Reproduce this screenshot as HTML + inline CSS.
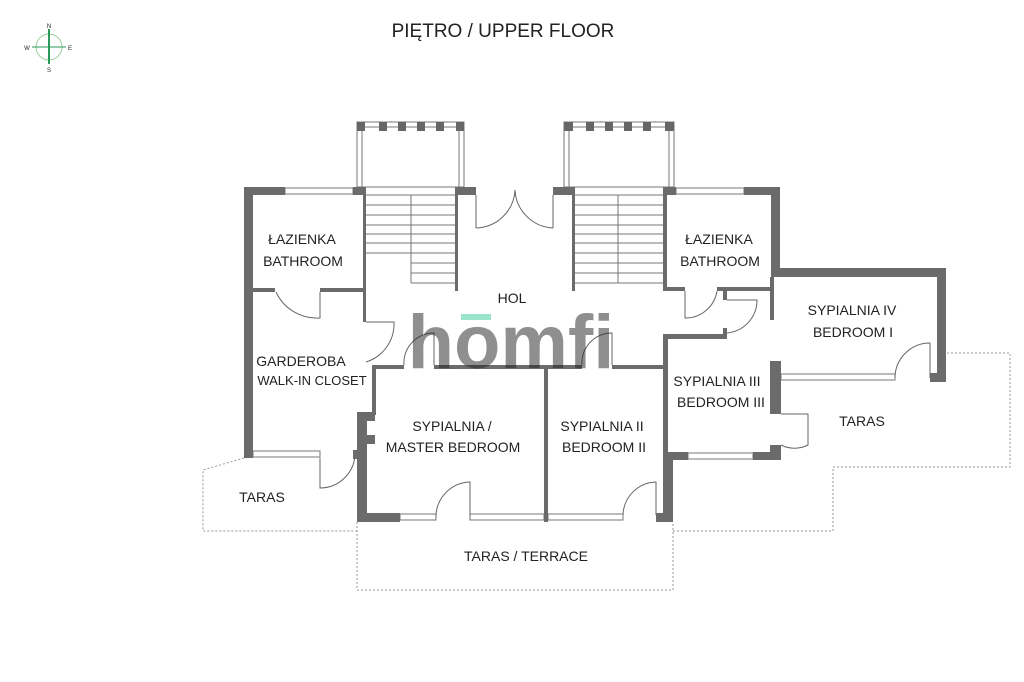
<!DOCTYPE html>
<html><head><meta charset="utf-8"><style>
html,body{margin:0;padding:0;background:#fff;width:1024px;height:682px;overflow:hidden}
svg{display:block}
text{font-family:"Liberation Sans",sans-serif;fill:#222}
</style></head><body>
<svg width="1024" height="682" viewBox="0 0 1024 682" xmlns="http://www.w3.org/2000/svg">
<rect width="1024" height="682" fill="#fff"/>
<text x="503" y="37" font-size="19" text-anchor="middle" fill="#333">PIĘTRO / UPPER FLOOR</text>
<circle cx="49" cy="47" r="13" fill="none" stroke="#9c9" stroke-width="1"/>
<line x1="49" y1="29" x2="49" y2="64" stroke="#2a9a5a" stroke-width="2"/>
<line x1="32" y1="47" x2="66" y2="47" stroke="#2a9a5a" stroke-width="1"/>
<text x="49" y="28" font-size="6" text-anchor="middle">N</text>
<text x="49" y="72" font-size="6" text-anchor="middle">S</text>
<text x="27" y="50" font-size="6" text-anchor="middle">W</text>
<text x="70" y="50" font-size="6" text-anchor="middle">E</text>

<g fill="none" stroke="#999" stroke-width="1" stroke-dasharray="2,2">
<polyline points="244,458 203,470 203,531 357,531"/>
<polyline points="357,522 357,590 673,590 673,522"/>
<polyline points="673,531 833,531 833,467 1010,467 1010,353 946,353"/>
</g>

<g fill="none" stroke="#777" stroke-width="1">
<rect x="357" y="122" width="107" height="65"/>
<line x1="362" y1="131" x2="362" y2="187"/><line x1="459" y1="131" x2="459" y2="187"/>
<line x1="357" y1="127" x2="464" y2="127"/>
<rect x="564" y="122" width="110" height="65"/>
<line x1="569" y1="131" x2="569" y2="187"/><line x1="669" y1="131" x2="669" y2="187"/>
<line x1="564" y1="127" x2="674" y2="127"/>
</g>
<g fill="#666">
<rect x="357" y="122" width="8" height="9"/><rect x="456" y="122" width="8" height="9"/>
<rect x="379" y="122" width="8" height="9"/><rect x="398" y="122" width="8" height="9"/><rect x="417" y="122" width="8" height="9"/><rect x="436" y="122" width="8" height="9"/>
<rect x="564" y="122" width="9" height="9"/><rect x="665" y="122" width="9" height="9"/>
<rect x="586" y="122" width="8" height="9"/><rect x="605" y="122" width="8" height="9"/><rect x="624" y="122" width="8" height="9"/><rect x="643" y="122" width="8" height="9"/>
</g>

<g stroke="#777" stroke-width="1">
<line x1="366" y1="195" x2="456" y2="195"/>
<line x1="411" y1="195" x2="411" y2="283"/>
<line x1="366" y1="205" x2="456" y2="205"/><line x1="366" y1="215" x2="456" y2="215"/><line x1="366" y1="225" x2="456" y2="225"/><line x1="366" y1="234" x2="456" y2="234"/><line x1="366" y1="243" x2="456" y2="243"/><line x1="366" y1="253" x2="456" y2="253"/>
<line x1="411" y1="263" x2="456" y2="263"/><line x1="411" y1="273" x2="456" y2="273"/><line x1="411" y1="283" x2="456" y2="283"/>
<line x1="575" y1="195" x2="663" y2="195"/>
<line x1="618" y1="195" x2="618" y2="283"/>
<line x1="575" y1="205" x2="663" y2="205"/><line x1="575" y1="215" x2="663" y2="215"/><line x1="575" y1="225" x2="663" y2="225"/><line x1="575" y1="234" x2="663" y2="234"/><line x1="575" y1="243" x2="663" y2="243"/><line x1="575" y1="253" x2="663" y2="253"/><line x1="575" y1="263" x2="663" y2="263"/><line x1="575" y1="273" x2="663" y2="273"/><line x1="575" y1="283" x2="663" y2="283"/>
</g>

<g stroke="#777" stroke-width="1" fill="none">
<rect x="285" y="188" width="68" height="6"/>
<rect x="676" y="188" width="68" height="6"/>
<rect x="253" y="451" width="67" height="6"/>
<rect x="400" y="514" width="36" height="6"/>
<rect x="470" y="514" width="74" height="6"/>
<rect x="548" y="514" width="75" height="6"/>
<rect x="688" y="453" width="65" height="6"/>
<rect x="781" y="374" width="114" height="6"/>
</g>

<g stroke="#666" stroke-width="1" fill="none">
<path d="M476,228 L476,195 M476,228 A40,40 0 0 0 515,190"/>
<path d="M553,228 L553,195 M553,228 A40,40 0 0 1 515,190"/>
<path d="M320,292 L320,318 A45,45 0 0 1 276,292"/>
<path d="M366,322 L394,322 A40,40 0 0 1 366,362"/>
<path d="M320,458 L320,488 A35,35 0 0 0 355,452"/>
<path d="M434,365 L434,333 A30,30 0 0 0 404,365"/>
<path d="M612,365 L612,333 A30,30 0 0 0 582,365"/>
<path d="M470,520 L470,482 A35,35 0 0 0 436,518"/>
<path d="M656,515 L656,482 A34,34 0 0 0 623,515"/>
<path d="M685,291 L685,318 A32,32 0 0 0 717,291"/>
<path d="M727,300 L757,300 A33,33 0 0 1 727,333"/>
<path d="M781,414 L808,414 L808,445 A30,30 0 0 1 781,445"/>
<path d="M930,343 L930,378 M930,343 A35,35 0 0 0 895,378"/>
</g>

<g fill="#6b6b6b">
<rect x="244" y="187" width="41" height="8"/>
<rect x="244" y="187" width="9" height="271"/>
<rect x="244" y="450" width="9" height="8"/>
<rect x="353" y="187" width="13" height="8"/>
<rect x="363" y="187" width="3" height="135"/>
<rect x="455" y="187" width="3" height="104"/>
<rect x="455" y="187" width="21" height="8"/>
<rect x="553" y="187" width="22" height="8"/>
<rect x="572" y="187" width="3" height="104"/>
<rect x="663" y="187" width="13" height="8"/>
<rect x="663" y="187" width="4" height="104"/>
<rect x="744" y="187" width="36" height="8"/>
<rect x="771" y="187" width="9" height="90"/>
<rect x="771" y="268" width="175" height="9"/>
<rect x="937" y="268" width="9" height="114"/>
<rect x="930" y="373" width="16" height="9"/>
<rect x="252" y="288" width="23" height="4"/>
<rect x="320" y="288" width="43" height="4"/>
<rect x="663" y="287" width="22" height="4"/>
<rect x="717" y="287" width="57" height="4"/>
<rect x="723" y="291" width="4" height="9"/>
<rect x="770" y="277" width="4" height="43"/>
<rect x="663" y="334" width="64" height="5"/>
<rect x="723" y="328" width="4" height="8"/>
<rect x="663" y="334" width="5" height="128"/>
<rect x="770" y="361" width="11" height="53"/>
<rect x="770" y="445" width="11" height="15"/>
<rect x="663" y="452" width="25" height="8"/>
<rect x="753" y="452" width="28" height="8"/>
<rect x="663" y="452" width="10" height="70"/>
<rect x="656" y="513" width="17" height="9"/>
<rect x="372" y="365" width="32" height="4"/>
<rect x="434" y="365" width="148" height="4"/>
<rect x="612" y="365" width="55" height="4"/>
<rect x="372" y="365" width="4" height="50"/>
<rect x="357" y="412" width="10" height="110"/>
<rect x="357" y="412" width="18" height="9"/>
<rect x="357" y="435" width="18" height="9"/>
<rect x="353" y="450" width="5" height="9"/>
<rect x="544" y="365" width="4" height="157"/>
<rect x="357" y="513" width="43" height="9"/>
</g>

<g opacity="0.5">
<text x="511" y="368" font-size="76" font-weight="bold" text-anchor="middle" fill="#666">homfi</text>
<rect x="461" y="314" width="30" height="6" fill="#3cc99a"/>
</g>

<g font-size="14" text-anchor="middle">
<text x="302" y="244">ŁAZIENKA</text><text x="303" y="266">BATHROOM</text>
<text x="719" y="244">ŁAZIENKA</text><text x="720" y="266">BATHROOM</text>
<text x="512" y="303">HOL</text>
<text x="301" y="366">GARDEROBA</text><text x="312" y="385" font-size="13">WALK-IN CLOSET</text>
<text x="452" y="431">SYPIALNIA /</text><text x="453" y="452">MASTER BEDROOM</text>
<text x="602" y="431">SYPIALNIA II</text><text x="604" y="452">BEDROOM II</text>
<text x="717" y="386">SYPIALNIA III</text><text x="721" y="407">BEDROOM III</text>
<text x="852" y="315">SYPIALNIA IV</text><text x="853" y="337">BEDROOM I</text>
<text x="862" y="426">TARAS</text>
<text x="262" y="502">TARAS</text>
<text x="526" y="561">TARAS / TERRACE</text>
</g>
</svg>
</body></html>
